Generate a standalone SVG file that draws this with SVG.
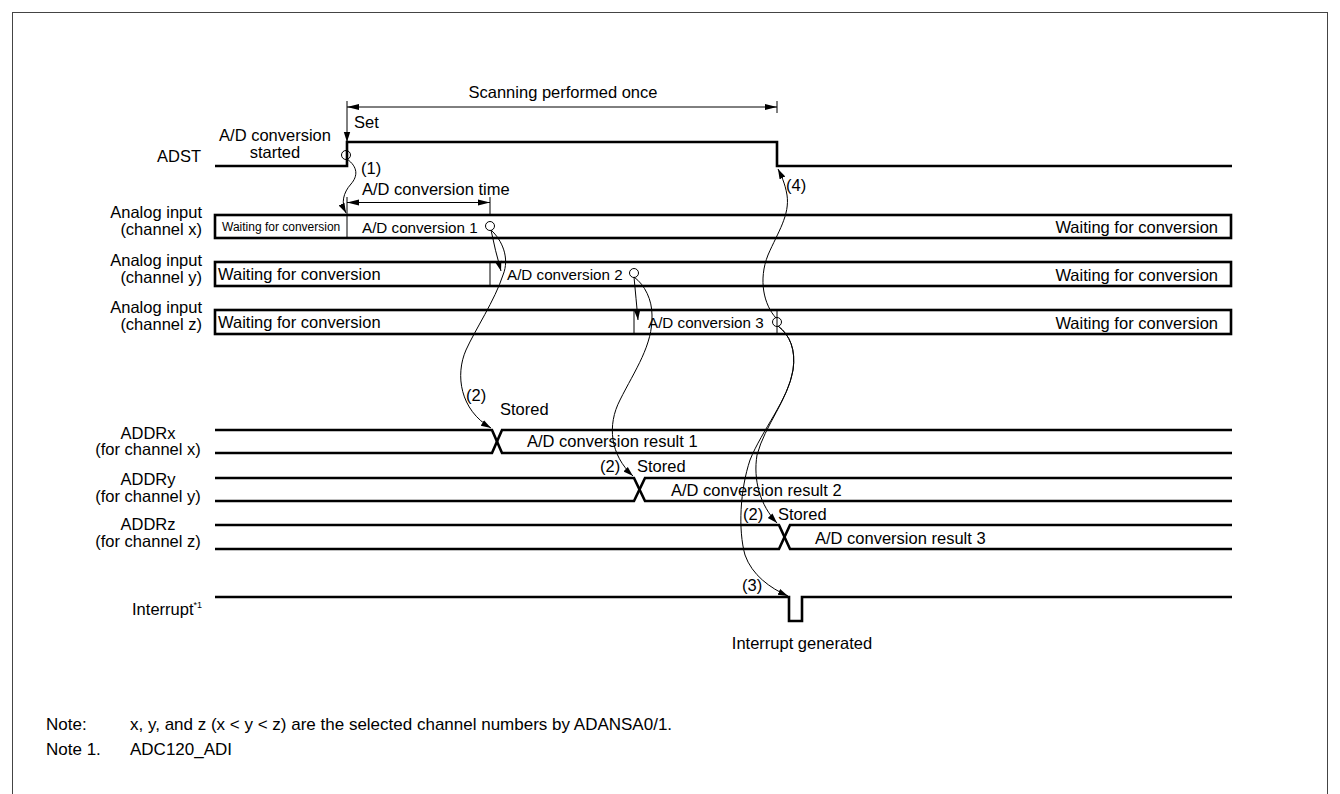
<svg xmlns="http://www.w3.org/2000/svg" width="1340" height="794" viewBox="0 0 1340 794">
<style>
text{font-family:"Liberation Sans",Arial,sans-serif;font-size:16.5px;fill:#000}
.sm{font-size:12px}
.cv{font-size:15.2px}
.sup{font-size:9px}
.note{font-size:17px}
.mid{text-anchor:middle}
.end{text-anchor:end}
.sig{fill:none;stroke:#000;stroke-width:2.6}
.thin{fill:none;stroke:#000;stroke-width:1}
.con{fill:none;stroke:#000;stroke-width:1;marker-end:url(#ah)}
.dim{fill:none;stroke:#000;stroke-width:1;marker-start:url(#da);marker-end:url(#da)}
.circ{fill:none;stroke:#000;stroke-width:1}
</style>
<defs>
<marker id="ah" markerUnits="userSpaceOnUse" markerWidth="10" markerHeight="8" refX="10" refY="4" orient="auto"><path d="M0,0.8 L10,4 L0,7.2 z" fill="#000"/></marker>
<marker id="da" markerUnits="userSpaceOnUse" markerWidth="12" markerHeight="8" refX="12" refY="4" orient="auto-start-reverse"><path d="M0,1 L12,4 L0,7 z" fill="#000"/></marker>
</defs>
<rect x="12.5" y="12.5" width="1315" height="800" fill="none" stroke="#444" stroke-width="1"/>

<g id="scan">
<line class="dim" x1="347" y1="107" x2="777" y2="107"/>
<line class="thin" x1="777" y1="101" x2="777" y2="113"/>
<text class="mid" x="563" y="98">Scanning performed once</text>
</g>

<g id="adst">
<text class="end" x="201" y="162">ADST</text>
<path class="sig" d="M215,166 H347 V142 H777 V166 H1232"/>
<line class="con" x1="347" y1="101" x2="347" y2="142"/>
<text x="354" y="128">Set</text>
<text class="mid" x="275" y="141">A/D conversion</text>
<text class="mid" x="275" y="158">started</text>
<circle class="circ" cx="346" cy="155" r="4.5"/>
<text x="361" y="174">(1)</text>
<text x="362" y="195">A/D conversion time</text>
<line class="dim" x1="347" y1="202.5" x2="490" y2="202.5"/>
<line class="thin" x1="490" y1="197" x2="490" y2="215"/>
<line class="thin" x1="347" y1="197" x2="347" y2="238"/>
<text x="786" y="191">(4)</text>
</g>

<g id="chx">
<text class="end" x="202" y="218">Analog input</text>
<text class="end" x="202" y="235">(channel x)</text>
<rect class="sig" x="215" y="215" width="1016" height="23"/>
<text class="sm" x="222" y="231">Waiting for conversion</text>
<text class="cv" x="362" y="233">A/D conversion 1</text>
<circle class="circ" cx="490" cy="226" r="4.5"/>
<text class="end" x="1218" y="233">Waiting for conversion</text>
</g>

<g id="chy">
<text class="end" x="202" y="266">Analog input</text>
<text class="end" x="202" y="283">(channel y)</text>
<rect class="sig" x="215" y="262" width="1016" height="24"/>
<line class="thin" x1="490" y1="262" x2="490" y2="286"/>
<text x="218" y="280">Waiting for conversion</text>
<text class="cv" x="507" y="280">A/D conversion 2</text>
<circle class="circ" cx="634" cy="273" r="4.5"/>
<text class="end" x="1218" y="281">Waiting for conversion</text>
</g>

<g id="chz">
<text class="end" x="202" y="313">Analog input</text>
<text class="end" x="202" y="330">(channel z)</text>
<rect class="sig" x="215" y="310" width="1016" height="24"/>
<line class="thin" x1="634" y1="310" x2="634" y2="334"/>
<line class="thin" x1="777" y1="310" x2="777" y2="334"/>
<text x="218" y="328">Waiting for conversion</text>
<text class="cv" x="648" y="328">A/D conversion 3</text>
<circle class="circ" cx="777" cy="322" r="4.5"/>
<text class="end" x="1218" y="329">Waiting for conversion</text>
</g>

<g id="addrx">
<text class="mid" x="148" y="439">ADDRx</text>
<text class="mid" x="148" y="455">(for channel x)</text>
<path class="sig" d="M215,430 H492 L502,453 H1232"/>
<path class="sig" d="M215,453 H492 L502,430 H1232"/>
<text x="466" y="401">(2)</text>
<text x="500" y="415">Stored</text>
<text x="527" y="447">A/D conversion result 1</text>
</g>

<g id="addry">
<text class="mid" x="148" y="485">ADDRy</text>
<text class="mid" x="148" y="502">(for channel y)</text>
<path class="sig" d="M215,478 H634 L645,501 H1232"/>
<path class="sig" d="M215,501 H634 L645,478 H1232"/>
<text x="600" y="472">(2)</text>
<text x="637" y="472">Stored</text>
<text x="671" y="496">A/D conversion result 2</text>
</g>

<g id="addrz">
<text class="mid" x="148" y="530">ADDRz</text>
<text class="mid" x="148" y="547">(for channel z)</text>
<path class="sig" d="M215,525 H779 L790,549 H1232"/>
<path class="sig" d="M215,549 H779 L790,525 H1232"/>
<text x="743" y="520">(2)</text>
<text x="778" y="520">Stored</text>
<text x="815" y="544">A/D conversion result 3</text>
</g>

<g id="interrupt">
<text class="end" x="202" y="615">Interrupt<tspan class="sup" dy="-7">*1</tspan></text>
<path class="sig" d="M215,597 H789 V621 H802 V597 H1232"/>
<text x="742" y="591">(3)</text>
<text class="mid" x="802" y="649">Interrupt generated</text>
</g>

<g id="connectors">
<path class="con" d="M347,159 C358,167 358,176 351,184 C343,193 341,203 346,213"/>
<path class="con" d="M491,230 Q495,250 501,271"/>
<path class="con" d="M491,230 C502,240 510,258 503,275 C495,300 475,330 466,350 C455,375 460,410 491,428"/>
<path class="con" d="M634,277 Q636,298 638,320"/>
<path class="con" d="M634,277 C645,285 652,300 652,315 C653,345 635,370 620,400 C607,425 610,455 633,476"/>
<path class="con" d="M776,318 C764,305 758,280 768,255 C778,232 790,215 787,195 C785,183 781,175 778,169"/>
<path class="con" d="M778,326 C790,335 796,350 793,370 C788,400 765,425 757,455 C753,480 760,505 777,523"/>
<path class="con" d="M778,326 C790,335 796,350 793,370 C788,400 762,430 750,460 C740,490 738,530 745,555 C752,575 770,588 788,596"/>
</g>

<g id="notes">
<text class="note" x="46" y="730">Note:</text>
<text class="note" x="130" y="730">x, y, and z (x &lt; y &lt; z) are the selected channel numbers by ADANSA0/1.</text>
<text class="note" x="46" y="755">Note 1.</text>
<text class="note" x="130" y="755">ADC120_ADI</text>
</g>
</svg>
